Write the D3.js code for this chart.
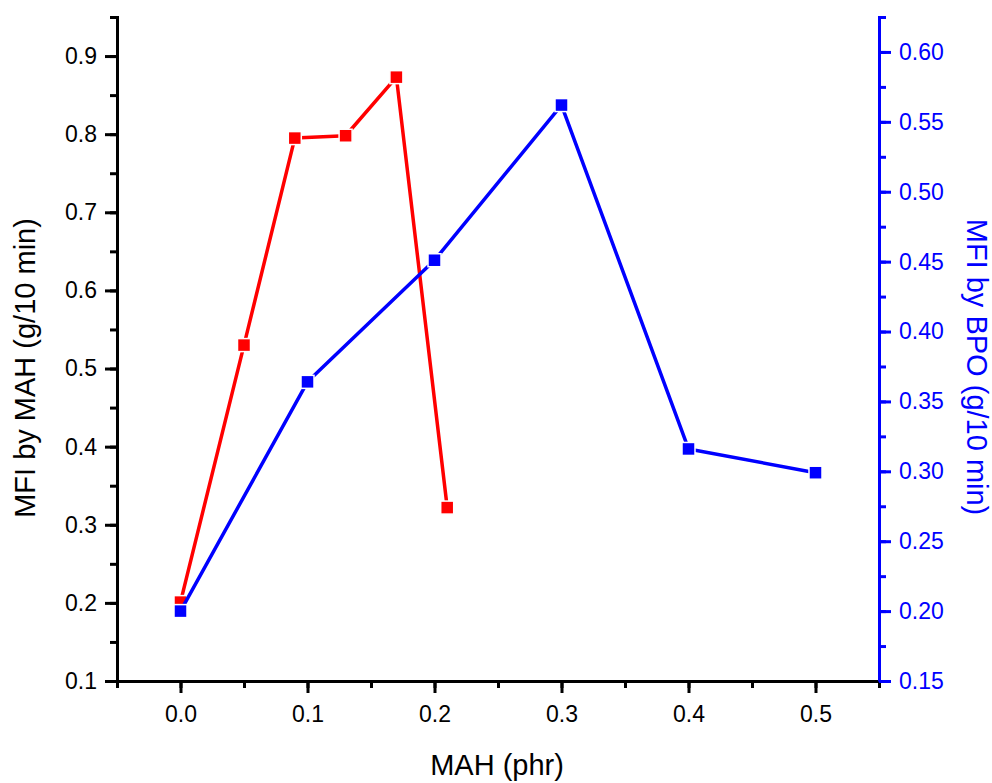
<!DOCTYPE html>
<html>
<head>
<meta charset="utf-8">
<script src="https://cdn.jsdelivr.net/npm/d3@7/dist/d3.min.js"></script>
<style>
  html, body { margin: 0; padding: 0; background: #fff; }
  svg { display: block; font-family: "Liberation Sans", Arial, sans-serif; }
</style>
</head>
<body>
<svg id="chart" width="992" height="783"></svg>
<script>
// ---- data ----
const mahX = [0, 0.05, 0.09, 0.13, 0.17, 0.21];
const mahMFI = [0.201, 0.530, 0.795, 0.798, 0.873, 0.322];
const bpoX = [0, 0.1, 0.2, 0.3, 0.4, 0.5];
const bpoMFI = [0.200, 0.364, 0.451, 0.562, 0.316, 0.299];
const xTicks = [0.0, 0.1, 0.2, 0.3, 0.4, 0.5];
const leftTicks = [0.1, 0.2, 0.3, 0.4, 0.5, 0.6, 0.7, 0.8, 0.9];
const rightTicks = [0.15, 0.20, 0.25, 0.30, 0.35, 0.40, 0.45, 0.50, 0.55, 0.60];
const xTitle = "MAH (phr)";
const leftTitle = "MFI by MAH (g/10 min)";
const rightTitle = "MFI by BPO (g/10 min)";

const RED = "#ff0000", BLUE = "#0000ff";
const FONT = '"Liberation Sans", Arial, sans-serif';
const L = 117, R = 879, T = 17, B = 681;

const svg = d3.select("#chart");
const x = d3.scaleLinear().domain([-0.05, 0.55]).range([L, R]);
const yL = d3.scaleLinear().domain([0.1, 0.95]).range([B, T]);
const yR = d3.scaleLinear().domain([0.15, 0.625]).range([B, T]);

const xMinor = d3.range(-0.05, 0.5501, 0.05).map(v => +v.toFixed(3));
const lMinor = d3.range(0.1, 0.9501, 0.05).map(v => +v.toFixed(3));
const rMinor = d3.range(0.15, 0.6251, 0.025).map(v => +v.toFixed(4));

function styleAxis(g, color) {
  g.attr("font-family", FONT).attr("font-size", 23);
  g.select(".domain").attr("stroke", color).attr("stroke-width", 3);
  g.selectAll(".tick line").attr("stroke", color).attr("stroke-width", 3);
  g.selectAll(".tick text").attr("fill", color).attr("font-size", 23).attr("font-family", FONT);
}

// minor ticks
svg.append("g").attr("transform", `translate(0,${B})`)
  .call(d3.axisBottom(x).tickValues(xMinor).tickSize(7).tickFormat(""))
  .call(g => styleAxis(g, "#000"));
svg.append("g").attr("transform", `translate(${L},0)`)
  .call(d3.axisLeft(yL).tickValues(lMinor).tickSize(7).tickFormat(""))
  .call(g => styleAxis(g, "#000"));
svg.append("g").attr("transform", `translate(${R},0)`)
  .call(d3.axisRight(yR).tickValues(rMinor).tickSize(7).tickFormat(""))
  .call(g => styleAxis(g, BLUE));

// major ticks
svg.append("g").attr("transform", `translate(0,${B})`)
  .call(d3.axisBottom(x).tickValues(xTicks).tickSize(12).tickSizeOuter(0).tickPadding(13).tickFormat(d3.format(".1f")))
  .call(g => styleAxis(g, "#000"));
svg.append("g").attr("transform", `translate(${L},0)`)
  .call(d3.axisLeft(yL).tickValues(leftTicks).tickSize(12).tickSizeOuter(0).tickPadding(8).tickFormat(d3.format(".1f")))
  .call(g => styleAxis(g, "#000"));
svg.append("g").attr("transform", `translate(${R},0)`)
  .call(d3.axisRight(yR).tickValues(rightTicks).tickSize(12).tickSizeOuter(0).tickPadding(8).tickFormat(d3.format(".2f")))
  .call(g => styleAxis(g, BLUE));

// titles
svg.append("text").attr("x", 497).attr("y", 775).attr("text-anchor", "middle")
  .attr("font-family", FONT).attr("font-size", 29).attr("fill", "#000").text(xTitle);
svg.append("text").attr("transform", "translate(35,368) rotate(-90)").attr("text-anchor", "middle")
  .attr("font-family", FONT).attr("font-size", 29).attr("fill", "#000").text(leftTitle);
svg.append("text").attr("transform", "translate(967,367) rotate(90)").attr("text-anchor", "middle")
  .attr("font-family", FONT).attr("font-size", 29).attr("fill", BLUE).text(rightTitle);

// series
function drawSeries(xs, ys, yScale, color) {
  const pts = xs.map((d, i) => [x(d), yScale(ys[i])]);
  svg.append("path").attr("d", d3.line()(pts)).attr("fill", "none")
    .attr("stroke", color).attr("stroke-width", 3.5).attr("stroke-linejoin", "round");
  svg.append("g").selectAll("rect").data(pts).join("rect")
    .attr("x", d => d[0] - 6.5).attr("y", d => d[1] - 6.5)
    .attr("width", 13).attr("height", 13)
    .attr("fill", color).attr("stroke", "#fff").attr("stroke-width", 1.5);
}
drawSeries(mahX, mahMFI, yL, RED);
drawSeries(bpoX, bpoMFI, yR, BLUE);
</script>
</body>
</html>
